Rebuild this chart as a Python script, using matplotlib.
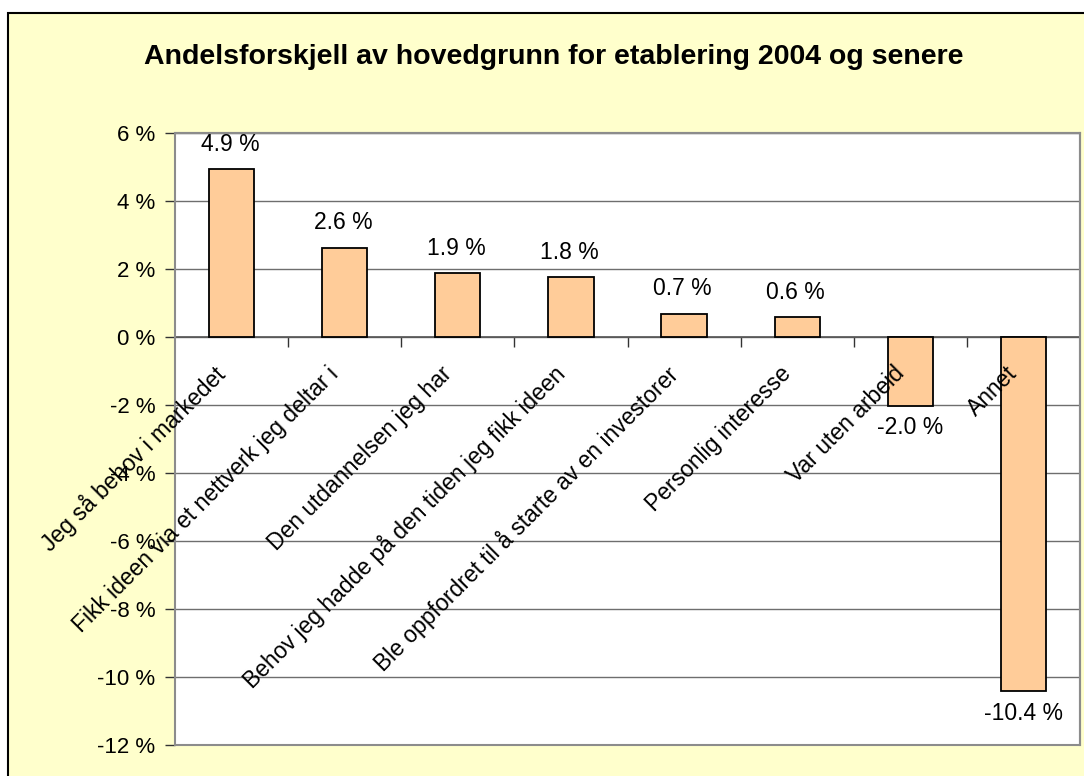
import matplotlib
matplotlib.use("Agg")
import matplotlib.pyplot as plt
from matplotlib.patches import Rectangle

plt.rcParams['font.family'] = ['Liberation Sans', 'DejaVu Sans']

title = "Andelsforskjell av hovedgrunn for etablering 2004 og senere"
categories = [
    "Jeg så behov i markedet",
    "Fikk ideen via et nettverk jeg deltar i",
    "Den utdannelsen jeg har",
    "Behov jeg hadde på den tiden jeg fikk ideen",
    "Ble oppfordret til å starte av en investorer",
    "Personlig interesse",
    "Var uten arbeid",
    "Annet",
]
values = [4.94, 2.63, 1.88, 1.76, 0.68, 0.58, -2.02, -10.42]
yticks = [-12, -10, -8, -6, -4, -2, 0, 2, 4, 6]

W, H = 1084, 776
fig = plt.figure(figsize=(W / 100, H / 100), dpi=100)
fig.patch.set_facecolor('white')
# outer chart frame
fig.patches.append(Rectangle((8 / W, -0.1), 1.2, 1 - 13 / H + 0.1,
                             transform=fig.transFigure, facecolor='#FFFFCC',
                             edgecolor='black', linewidth=1.5, zorder=-5))

ax = fig.add_axes([175 / W, 1 - 745 / H, (1080 - 175) / W, (745 - 133) / H])
ax.set_zorder(2)
ax.set_facecolor('white')
x = list(range(len(categories)))
ax.bar(x, values, width=0.4, color='#FFCC99', edgecolor='black', linewidth=1.3, zorder=3)

ax.set_xlim(-0.5, len(categories) - 0.5)
ax.set_ylim(-12, 6)
ax.set_yticks(yticks)
ax.set_yticklabels([f"{v} %" for v in yticks], fontsize=16)
ax.yaxis.grid(True, color='#6E6E6E', linewidth=1.0, zorder=0)
ax.tick_params(axis='y', length=7, width=1, color='#333333', pad=7)

for s in ['top', 'right']:
    ax.spines[s].set_color('#8C8C8C')
    ax.spines[s].set_linewidth(1.5)
ax.spines['left'].set_color('#333333')
ax.spines['left'].set_linewidth(1.2)
ax.spines['bottom'].set_position(('data', 0))
ax.spines['bottom'].set_color('#555555')
ax.spines['bottom'].set_linewidth(1.2)
ax.add_patch(Rectangle((0, 0), 1, 1, transform=ax.transAxes, fill=False,
                       edgecolor='#8C8C8C', linewidth=1.5, zorder=5, clip_on=False))

ax.set_xticks([i + 0.5 for i in x[:-1]])
ax.set_xticklabels([])
ax.tick_params(axis='x', length=7, width=1, color='#333333', direction='out')

for i, (c, v) in enumerate(zip(categories, values)):
    ax.annotate(c, xy=(i, 0), xytext=(-7, -24), textcoords='offset points',
                rotation=45, rotation_mode='anchor', ha='right', va='center',
                fontsize=16.5, zorder=6)
    if v >= 0:
        ax.annotate(f"{v:.1f} %", xy=(i, v), xytext=(-1, 18), textcoords='offset points',
                    ha='center', va='center', fontsize=16.5, zorder=6)
    else:
        ax.annotate(f"{v:.1f} %", xy=(i, v), xytext=(0, -16), textcoords='offset points',
                    ha='center', va='center', fontsize=16.5, zorder=6)

fig.text(554 / W, 1 - 57 / H, title, ha='center', va='center',
         fontsize=20.5, fontweight='bold')

fig.savefig('out.png', dpi=100, facecolor=fig.get_facecolor())
